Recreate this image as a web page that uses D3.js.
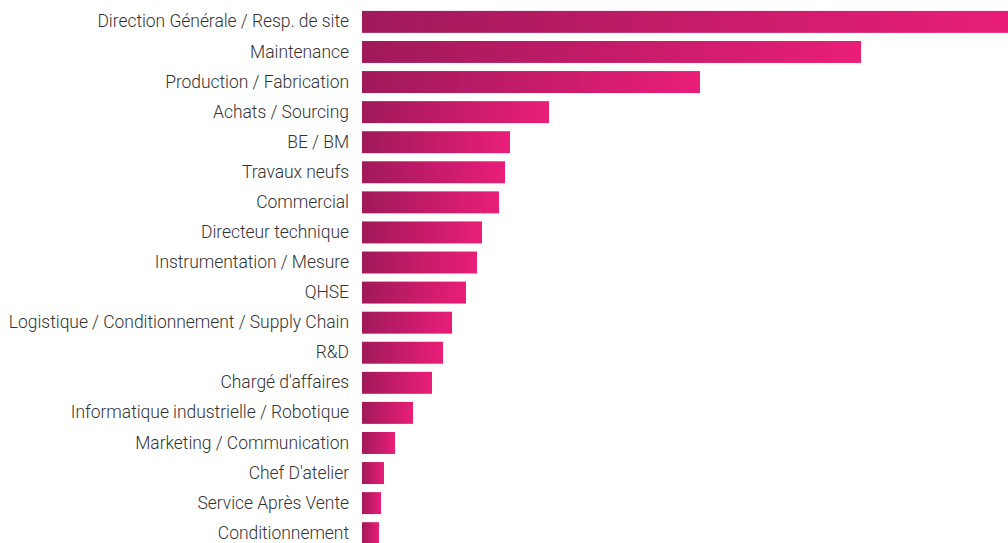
<!DOCTYPE html>
<html><head><meta charset="utf-8">
<script src="https://cdn.jsdelivr.net/npm/d3@7"></script>
<style>html,body{margin:0;padding:0;background:#fff;overflow:hidden}</style>
</head><body><svg id="c" width="1008" height="543"></svg>
<script>
const categories = ["Direction Générale / Resp. de site","Maintenance","Production / Fabrication","Achats / Sourcing","BE / BM","Travaux neufs","Commercial","Directeur technique","Instrumentation / Mesure","QHSE","Logistique / Conditionnement / Supply Chain","R&D","Chargé d'affaires","Informatique industrielle / Robotique","Marketing / Communication","Chef D'atelier","Service Après Vente","Conditionnement"];
const values = [646,499,338,187,148,143,137,120,115,104,90,81,70,51,33,22,19,17];

const svg = d3.select("#c");
const left = 362, right = 1008;
const x = d3.scaleLinear().domain([0, d3.max(values)]).range([left, right]);
const y = d3.scaleBand().domain(categories).range([7, 7 + 30.06*18]).paddingInner(0.27).paddingOuter(0.13);

const defs = svg.append("defs");
const g = defs.append("linearGradient").attr("id","grad").attr("x1","0%").attr("x2","100%").attr("y1","0%").attr("y2","0%");
g.append("stop").attr("offset","0%").attr("stop-color","#a0195b");
g.append("stop").attr("offset","100%").attr("stop-color","#e91e78");

svg.selectAll("rect.bar").data(categories).join("rect")
  .attr("class","bar")
  .attr("x", x(0))
  .attr("y", d => y(d))
  .attr("width", (d,i) => x(values[i]) - x(0))
  .attr("height", y.bandwidth())
  .attr("fill","url(#grad)");

const axis = d3.axisLeft(y).tickSize(0).tickPadding(13);
const ag = svg.append("g").attr("transform",`translate(${left},0)`).call(axis);
ag.select(".domain").remove();
ag.selectAll("text").attr("font-family","Roboto").attr("font-weight",300).attr("font-size","17.5px").attr("letter-spacing","-0.05px").attr("fill","#333");
</script></body></html>
